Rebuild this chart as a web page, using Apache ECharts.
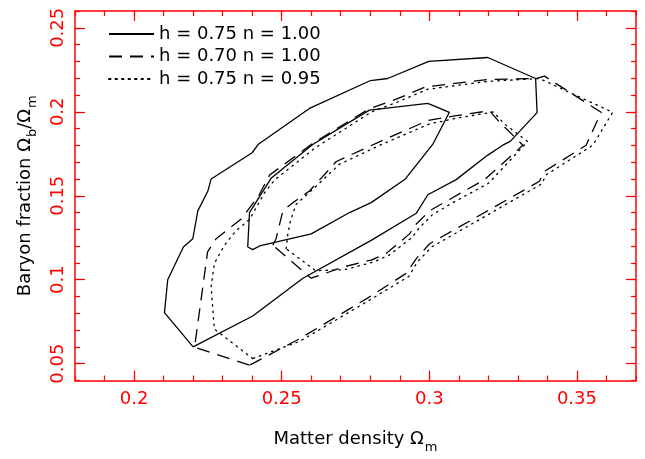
<!DOCTYPE html>
<html>
<head>
<meta charset="utf-8">
<script src="https://cdn.jsdelivr.net/npm/echarts@6/dist/echarts.min.js"></script>
<style>
  html, body { margin: 0; padding: 0; background: #fff; }
  #chart { width: 645px; height: 459px; }
</style>
</head>
<body>
<div id="chart"></div>
<script>
// Confidence contours in the (Omega_m, Omega_b/Omega_m) plane
const legendNames = ['h = 0.75 n = 1.00', 'h = 0.70 n = 1.00', 'h = 0.75 n = 0.95'];

const xMajorTicks = [0.2, 0.25, 0.3, 0.35];
const yMajorTicks = [0.05, 0.1, 0.15, 0.2, 0.25];

// h = 0.75, n = 1.00
const solidOuter = [
  [0.2200, 0.0600], [0.2103, 0.0804], [0.2114, 0.1000], [0.2167, 0.1195],
  [0.2199, 0.1244], [0.2216, 0.1410], [0.2250, 0.1528], [0.2261, 0.1600],
  [0.2400, 0.1756], [0.2421, 0.1807], [0.2594, 0.2020], [0.2801, 0.2186],
  [0.2859, 0.2198], [0.2998, 0.2300], [0.3198, 0.2323], [0.3360, 0.2198],
  [0.3365, 0.1995], [0.3274, 0.1824], [0.3249, 0.1801], [0.3198, 0.1742],
  [0.3091, 0.1596], [0.2995, 0.1506], [0.2956, 0.1396], [0.2803, 0.1234],
  [0.2572, 0.1009], [0.2402, 0.0784], [0.2200, 0.0600]
];
const solidInner = [
  [0.2385, 0.1195], [0.2402, 0.1179], [0.2425, 0.1201], [0.2600, 0.1273],
  [0.2730, 0.1400], [0.2803, 0.1459], [0.2919, 0.1600], [0.3012, 0.1807],
  [0.3068, 0.1997], [0.2995, 0.2050], [0.2797, 0.2010], [0.2605, 0.1805],
  [0.2465, 0.1606], [0.2391, 0.1400], [0.2385, 0.1195]
];

// h = 0.70, n = 1.00
const dashedOuter = [
  [0.2391, 0.0491], [0.2205, 0.0598], [0.2249, 0.1166], [0.2278, 0.1244],
  [0.2363, 0.1361], [0.2422, 0.1500], [0.2459, 0.1623], [0.2604, 0.1811],
  [0.2794, 0.2016], [0.2888, 0.2075], [0.2989, 0.2149], [0.3198, 0.2192],
  [0.3362, 0.2198], [0.3390, 0.2212], [0.3582, 0.1997], [0.3531, 0.1801],
  [0.3390, 0.1645], [0.3373, 0.1586], [0.3001, 0.1214], [0.2956, 0.1126],
  [0.2922, 0.1038], [0.2792, 0.0892], [0.2560, 0.0648], [0.2391, 0.0491]
];
const dashedInner = [
  [0.2470, 0.1205], [0.2481, 0.1244], [0.2504, 0.1410], [0.2538, 0.1459],
  [0.2594, 0.1528], [0.2685, 0.1704], [0.2831, 0.1821], [0.2995, 0.1948],
  [0.3091, 0.1977], [0.3204, 0.2006], [0.3238, 0.1938], [0.3317, 0.1801],
  [0.3187, 0.1596], [0.3068, 0.1478], [0.3001, 0.1410], [0.2956, 0.1332],
  [0.2933, 0.1273], [0.2854, 0.1156], [0.2803, 0.1117], [0.2713, 0.1078],
  [0.2600, 0.1009], [0.2470, 0.1205]
];

// h = 0.75, n = 0.95
const dottedOuter = [
  [0.2402, 0.0530], [0.2272, 0.0706], [0.2261, 0.0960], [0.2272, 0.1097],
  [0.2306, 0.1205], [0.2346, 0.1293], [0.2391, 0.1359], [0.2442, 0.1518],
  [0.2476, 0.1594], [0.2611, 0.1782], [0.2804, 0.1999], [0.2892, 0.2058],
  [0.2994, 0.2134], [0.3197, 0.2181], [0.3373, 0.2198], [0.3621, 0.1997],
  [0.3554, 0.1801], [0.3396, 0.1625], [0.3380, 0.1570], [0.3008, 0.1195],
  [0.2960, 0.1107], [0.2930, 0.1019], [0.2797, 0.0878], [0.2560, 0.0632],
  [0.2493, 0.0589], [0.2402, 0.0530]
];
const dottedInner = [
  [0.2515, 0.1185], [0.2521, 0.1273], [0.2530, 0.1352], [0.2549, 0.1449],
  [0.2611, 0.1547], [0.2696, 0.1688], [0.2838, 0.1805], [0.3001, 0.1928],
  [0.3096, 0.1963], [0.3217, 0.1999], [0.3254, 0.1928], [0.3333, 0.1823],
  [0.3201, 0.1575], [0.3079, 0.1458], [0.3011, 0.1388], [0.2967, 0.1311],
  [0.2943, 0.1254], [0.2865, 0.1148], [0.2814, 0.1107], [0.2713, 0.1060],
  [0.2615, 0.1054], [0.2515, 0.1185]
];

const RED = '#ff0000';
const FONT = 'DejaVu Sans';

function isMajor(v) {
  const k = v * 20;
  return Math.abs(k - Math.round(k)) < 1e-6;
}
function fmt(v) {
  return isMajor(v) ? String(+v.toFixed(2)) : '';
}

// one axis carries the frame line, minor ticks and labels; a twin carries the long ticks
function axesFor(min, max, majors, labelled, position, extra) {
  const base = {
    type: 'value', min: min, max: max, interval: 0.01, position: position,
    splitLine: { show: false }
  };
  const minorAxis = Object.assign({}, base, {
    axisLine: { show: true, onZero: false, lineStyle: { color: RED, width: 1.5 } },
    axisTick: { show: true, inside: true, length: 5, lineStyle: { color: RED, width: 1.2 } },
    axisLabel: labelled
      ? Object.assign({ show: true, color: RED, fontFamily: FONT, fontSize: 18, formatter: fmt,
          showMinLabel: true, showMaxLabel: true, hideOverlap: false }, extra)
      : { show: false }
  });
  const majorAxis = Object.assign({}, base, {
    axisLine: { show: false, onZero: false },
    axisTick: { show: true, inside: true, length: 10, customValues: majors,
      lineStyle: { color: RED, width: 1.2 } },
    axisLabel: { show: false }
  });
  return [minorAxis, majorAxis];
}

const xAxes = axesFor(0.18, 0.37, xMajorTicks, true, 'bottom', { margin: 10 })
  .concat(axesFor(0.18, 0.37, xMajorTicks, false, 'top', {}));
const yAxes = axesFor(0.04, 0.26, yMajorTicks, true, 'left', { margin: 8, rotate: 90 })
  .concat(axesFor(0.04, 0.26, yMajorTicks, false, 'right', {}));

const titleRich = {
  t: { fontFamily: FONT, fontSize: 18, color: '#000', lineHeight: 22 },
  s: { fontFamily: FONT, fontSize: 13, color: '#000', lineHeight: 22, padding: [16, 0, 0, 1] }
};

xAxes[0].name = '{t|Matter density Ω}{s|m}';
xAxes[0].nameLocation = 'middle';
xAxes[0].nameGap = 48;
xAxes[0].nameTextStyle = { rich: titleRich };

yAxes[0].name = '{t|Baryon fraction Ω}{s|b}{t|/Ω}{s|m}';
yAxes[0].nameLocation = 'middle';
yAxes[0].nameGap = 39;
yAxes[0].nameTextStyle = { rich: titleRich };

const styles = [
  { type: 'solid' },
  { type: [13, 8] },
  { type: [1.5, 5], cap: 'round' }
];

function contour(name, data, styleIdx) {
  return {
    name: name, type: 'line', data: data, symbol: 'none', showSymbol: false,
    xAxisIndex: 0, yAxisIndex: 0, animation: false, silent: true,
    itemStyle: { color: '#000' },
    lineStyle: Object.assign({ color: '#000', width: 1.3 }, styles[styleIdx])
  };
}

const chart = echarts.init(document.getElementById('chart'), null, { renderer: 'canvas' });
chart.setOption({
  animation: false,
  backgroundColor: '#fff',
  grid: { left: 75, right: 9, top: 11, bottom: 73, containLabel: false },
  xAxis: xAxes,
  yAxis: yAxes,
  legend: {
    data: legendNames, orient: 'vertical', left: 103, top: 20,
    itemWidth: 45, itemHeight: 14, itemGap: 4.5,
    itemStyle: { opacity: 0 },
    textStyle: { fontFamily: FONT, fontSize: 18, color: '#000' },
    selectedMode: false
  },
  series: [
    contour(legendNames[0], solidOuter, 0),
    contour(legendNames[0], solidInner, 0),
    contour(legendNames[1], dashedOuter, 1),
    contour(legendNames[1], dashedInner, 1),
    contour(legendNames[2], dottedOuter, 2),
    contour(legendNames[2], dottedInner, 2)
  ]
});
</script>
</body>
</html>
